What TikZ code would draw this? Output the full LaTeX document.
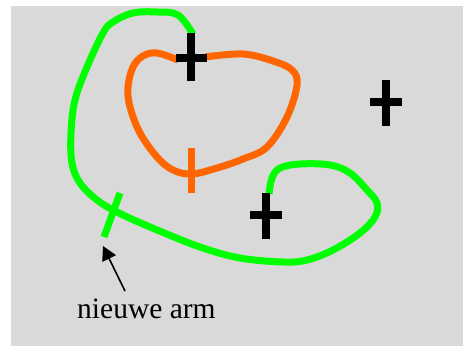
\documentclass[tikz,border=0pt]{standalone}
\usepackage{fontspec}
\setmainfont{Liberation Serif}
\usetikzlibrary{arrows.meta}
\definecolor{bg}{RGB}{217,217,217}
\definecolor{grn}{RGB}{0,255,0}
\definecolor{org}{RGB}{255,102,0}
\tikzset{
  greenline/.style={draw=grn,line width=7pt,line cap=butt},
  orangeline/.style={draw=org,line width=7pt,line cap=butt},
  crossline/.style={draw=black,line width=7.8pt,line cap=butt},
}
\begin{document}
\begin{tikzpicture}[x=1pt,y=-1pt]
\useasboundingbox (0,0) rectangle (463,346);
\fill[bg] (11,6) rectangle (463,346);
% orange loop
\draw[orangeline] plot[smooth,tension=0.6] coordinates {(178,60) (157,53) (143,56) (133,67) (128,87) (130,107) (140,133) (157,157) (173,170) (192,174) (217,168) (243,159) (267,147) (287,117) (297,85) (292,70) (273,61) (243,54) (205,57)};
\draw[orangeline] (191,148) -- (191,193);
% green curve
\draw[greenline] plot[smooth,tension=0.6] coordinates {(193,34) (178,15) (157,12) (133,13) (113,22) (103,33) (87,67) (75,100) (71,133) (72,163) (80,183) (97,200) (117,212) (150,227) (200,247) (240,258) (283,262) (307,260) (333,250) (360,233) (375,217) (377,203) (367,190) (350,173) (330,165) (300,164) (280,168) (272,178) (269,194)};
\draw[greenline] (120,193) -- (104,237);
% crosses
\draw[crossline] (191,33) -- (191,81) (176,58) -- (207,58);
\draw[crossline] (386,80) -- (386,126) (370,102) -- (402,102);
\draw[crossline] (266,193) -- (266,239) (250,215) -- (282,215);
% label and arrow
\node[anchor=base west,inner sep=0pt,font=\fontsize{29.5}{30}\selectfont] (lbl) at (77,318) {nieuwe arm};
\coordinate (tail) at (125,291);
\coordinate (tip) at (103,246);
\draw[line width=1.6pt,-{Triangle[length=14pt,width=15pt]}] (tail) -- (tip);
\end{tikzpicture}
\end{document}
